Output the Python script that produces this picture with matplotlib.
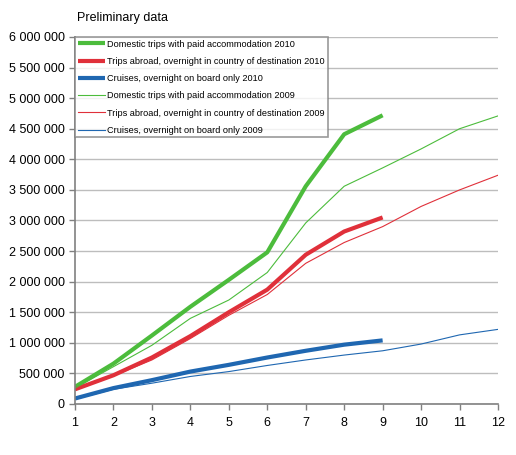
import matplotlib
matplotlib.use("Agg")
import matplotlib.pyplot as plt
from matplotlib.ticker import FuncFormatter

plt.rcParams["font.family"] = ["Liberation Sans", "DejaVu Sans"]

mois = [1, 2, 3, 4, 5, 6, 7, 8, 9, 10, 11, 12]
mois_2010 = mois[:9]

domestic_2010 = [280000, 660000, 1120000, 1590000, 2030000, 2480000, 3560000, 4410000, 4720000]
abroad_2010 = [240000, 470000, 760000, 1110000, 1500000, 1870000, 2440000, 2820000, 3050000]
cruises_2010 = [90000, 260000, 390000, 530000, 640000, 760000, 870000, 970000, 1040000]

domestic_2009 = [260000, 610000, 960000, 1400000, 1700000, 2150000, 2960000, 3560000, 3860000, 4170000, 4500000, 4710000]
abroad_2009 = [230000, 460000, 720000, 1070000, 1450000, 1790000, 2300000, 2640000, 2900000, 3230000, 3500000, 3740000]
cruises_2009 = [80000, 240000, 340000, 450000, 530000, 630000, 720000, 800000, 870000, 980000, 1130000, 1220000]

labels = [
    "Domestic trips with paid accommodation 2010",
    "Trips abroad, overnight in country of destination 2010",
    "Cruises, overnight on board only 2010",
    "Domestic trips with paid accommodation 2009",
    "Trips abroad, overnight in country of destination 2009",
    "Cruises, overnight on board only 2009",
]

vert = "#4cbc3c"
rouge = "#e0303a"
bleu = "#1f67b1"

fig = plt.figure(figsize=(5.16, 4.55), dpi=100)
ax = fig.add_axes([75 / 516, 51 / 455, 423 / 516, 367 / 455])

ax.plot(mois_2010, domestic_2010, color=vert, lw=3, label=labels[0], solid_capstyle="butt")
ax.plot(mois_2010, abroad_2010, color=rouge, lw=3, label=labels[1], solid_capstyle="butt")
ax.plot(mois_2010, cruises_2010, color=bleu, lw=3, label=labels[2], solid_capstyle="butt")
ax.plot(mois, domestic_2009, color=vert, lw=0.8, label=labels[3])
ax.plot(mois, abroad_2009, color=rouge, lw=0.8, label=labels[4])
ax.plot(mois, cruises_2009, color=bleu, lw=0.8, label=labels[5])

ax.set_xlim(1, 12)
ax.set_ylim(0, 6000000)
ax.set_xticks(mois)
ax.set_yticks(range(0, 6000001, 500000))
ax.yaxis.set_major_formatter(FuncFormatter(lambda v, p: f"{int(v):,}".replace(",", " ")))
ax.grid(axis="y", color="#bdbdbd", lw=1)
ax.set_axisbelow(True)
for cote in ["top", "right"]:
    ax.spines[cote].set_visible(False)
for cote in ["left", "bottom"]:
    ax.spines[cote].set_color("#808080")
    ax.spines[cote].set_linewidth(1.2)
ax.tick_params(axis="both", colors="#808080", labelcolor="black", labelsize=9, length=4, width=1)
ax.tick_params(axis="x", pad=5)

fig.text(77 / 516, 1 - 18 / 455, "Preliminary data", fontsize=9, va="center", ha="left")

leg = ax.legend(loc="upper left", bbox_to_anchor=(0, 1), fontsize=6.6, frameon=True,
                fancybox=False, handlelength=3.0, handletextpad=0.25, labelspacing=0.9,
                borderpad=0.28, borderaxespad=0)
leg.get_frame().set_edgecolor("#808080")
leg.get_frame().set_linewidth(1.2)

fig.savefig("out.png", dpi=100)
